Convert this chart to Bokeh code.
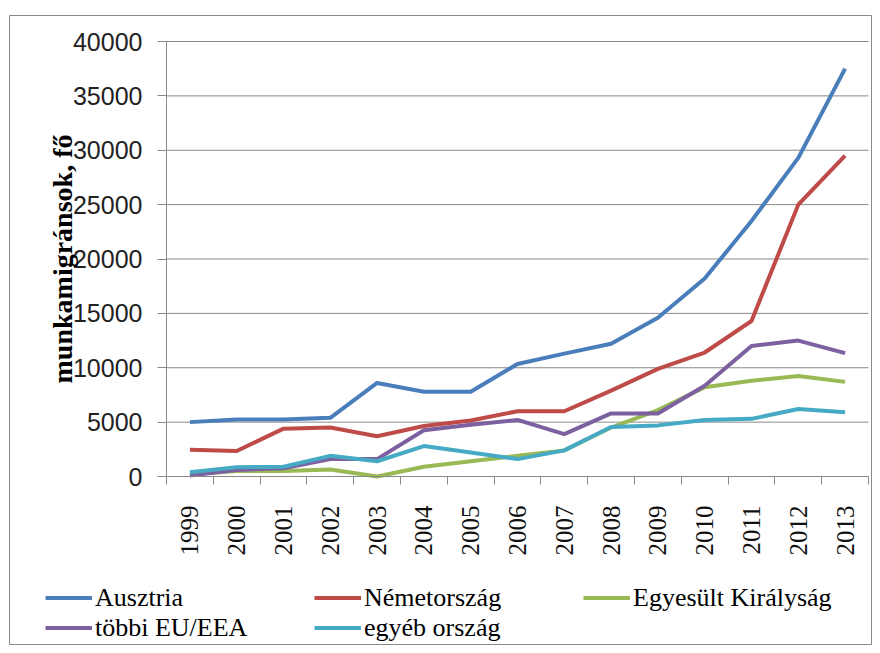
import math
from bokeh.plotting import figure
from bokeh.models import (Range1d, FixedTicker, NumeralTickFormatter, Legend, LegendItem)
from bokeh.embed import file_html
from bokeh.resources import INLINE

years = ["1999", "2000", "2001", "2002", "2003", "2004", "2005", "2006",
         "2007", "2008", "2009", "2010", "2011", "2012", "2013"]
ausztria = [5000, 5250, 5250, 5400, 8600, 7800, 7800, 10350, 11300, 12200,
            14600, 18200, 23500, 29300, 37500]
nemetorszag = [2450, 2350, 4400, 4500, 3700, 4650, 5150, 6000, 6000, 7900,
               9900, 11400, 14300, 25000, 29500]
egyesult = [200, 500, 500, 650, 0, 900, 1400, 1900, 2400, 4500,
            6100, 8200, 8800, 9250, 8700]
tobbi = [100, 600, 750, 1600, 1600, 4250, 4750, 5200, 3900, 5800,
         5800, 8350, 12000, 12500, 11350]
egyeb = [400, 850, 900, 1900, 1400, 2800, 2200, 1600, 2400, 4550,
         4700, 5200, 5300, 6200, 5900]
series_names = ["Ausztria", "Németország", "Egyesült Királyság", "többi EU/EEA", "egyéb ország"]
series_values = [ausztria, nemetorszag, egyesult, tobbi, egyeb]
series_colors = ["#4a7ebb", "#be4b48", "#98b954", "#7d60a0", "#46aac5"]
y_ticks = [0, 5000, 10000, 15000, 20000, 25000, 30000, 35000, 40000]
y_max = 40000

n = len(years)
centers = [i + 0.5 for i in range(n)]
bounds = [float(i) for i in range(n + 1)]

# layout (pixels, relative to the bordered canvas)
W, H = 863, 630
plot_left, plot_right = 157, 859
plot_top, plot_bottom = 26, 461
sx = (plot_right - plot_left) / n
sy = (plot_bottom - plot_top) / y_max
x_rng = Range1d(-plot_left / sx, n + (W - plot_right) / sx)
y_rng = Range1d(-(H - plot_bottom) / sy, y_max + plot_top / sy)

grey = "#898989"
p = figure(width=W, height=H, output_backend="svg", toolbar_location=None,
           x_range=x_rng, y_range=y_rng, margin=(15, 0, 0, 9),
           min_border=0, min_border_left=0, min_border_right=0,
           min_border_top=0, min_border_bottom=0)
p.outline_line_color = grey
p.outline_line_width = 1
p.background_fill_color = "white"
p.border_fill_color = "white"
p.xgrid.visible = False
p.ygrid.visible = False

# horizontal gridlines across the plot area
p.segment(x0=[0] * (len(y_ticks) - 1), x1=[n] * (len(y_ticks) - 1),
          y0=y_ticks[1:], y1=y_ticks[1:], line_color=grey, line_width=1)

# x axis
xa = p.xaxis[0]
xa.fixed_location = 0
xa.bounds = (0, n)
xa.ticker = FixedTicker(ticks=centers, minor_ticks=bounds)
xa.major_label_overrides = {c: y for c, y in zip(centers, years)}
xa.major_label_orientation = math.pi / 2
xa.major_tick_line_color = None
xa.major_tick_out = 0
xa.major_tick_in = 0
xa.minor_tick_line_color = grey
xa.minor_tick_out = 8
xa.minor_tick_in = 0
xa.axis_line_color = grey
xa.major_label_standoff = 21
xa.major_label_text_font = "Liberation Serif"
xa.major_label_text_font_size = "25px"
xa.major_label_text_color = "#111111"

# y axis
ya = p.yaxis[0]
ya.fixed_location = 0
ya.bounds = (0, y_max)
ya.ticker = FixedTicker(ticks=y_ticks)
ya.formatter = NumeralTickFormatter(format="0")
ya.minor_tick_line_color = None
ya.major_tick_line_color = grey
ya.major_tick_out = 9
ya.major_tick_in = 0
ya.axis_line_color = grey
ya.major_label_standoff = 15
ya.major_label_text_font = "Liberation Sans"
ya.major_label_text_font_size = "25px"
ya.major_label_text_color = "#222222"
ya.axis_label = "munkamigránsok, fő"
ya.axis_label_text_font = "Liberation Serif"
ya.axis_label_text_font_style = "bold"
ya.axis_label_text_font_size = "28px"
ya.axis_label_text_color = "#000000"
ya.axis_label_standoff = -8

items = []
for name, vals, col in zip(series_names, series_values, series_colors):
    r = p.line(centers, vals, line_color=col, line_width=4, line_join="round")
    items.append(LegendItem(label=name, renderers=[r]))

legend = Legend(items=items, location=(36, 2.5), orientation="horizontal",
                ncols=3, padding=0, margin=0, spacing=0, label_standoff=3,
                glyph_width=47, glyph_height=29, label_height=29, label_width=219,
                label_text_font="Liberation Serif", label_text_font_size="26px",
                label_text_color="#000000", border_line_color=None,
                background_fill_alpha=0)
p.add_layout(legend, "center")

open("out.html", "w").write(file_html(p, INLINE))
